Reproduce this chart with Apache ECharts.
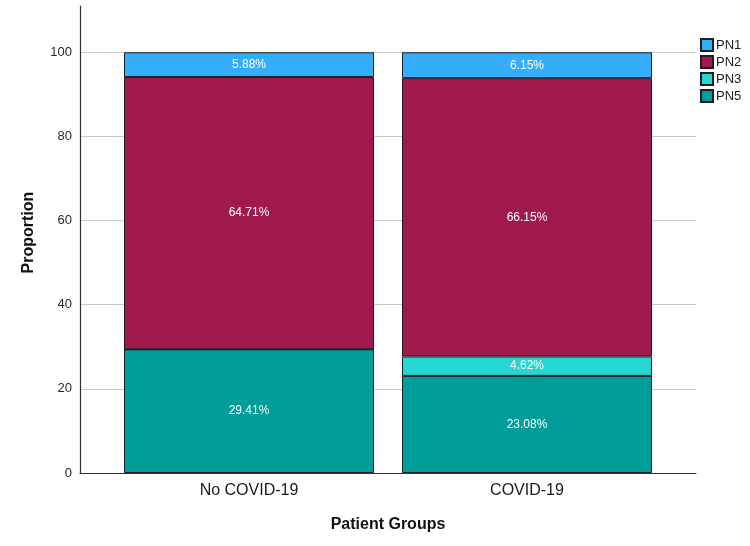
<!DOCTYPE html>
<html>
<head>
<meta charset="utf-8">
<script src="https://cdn.jsdelivr.net/npm/echarts@6/dist/echarts.min.js"></script>
<style>
html,body{margin:0;padding:0;background:#fff;}
#chart{width:750px;height:546px;}
</style>
</head>
<body>
<div id="chart"></div>
<script>
// Data
const categories = ['No COVID-19', 'COVID-19'];
const seriesNames = ['PN5', 'PN3', 'PN2', 'PN1']; // bottom to top
const pn5 = [29.41, 23.08];
const pn3 = [0, 4.62];
const pn2 = [64.71, 66.15];
const pn1 = [5.88, 6.15];
const legendOrder = ['PN1', 'PN2', 'PN3', 'PN5'];
const yTicks = [0, 20, 40, 60, 80, 100];

const colors = {PN1: '#34aefc', PN2: '#a11a4e', PN3: '#25d6d2', PN5: '#009d99'};
const valuesByName = {PN5: pn5, PN3: pn3, PN2: pn2, PN1: pn1};
const FONT = '"Liberation Sans", Arial, Helvetica, sans-serif';
const Y_MAX = 111;

const chart = echarts.init(document.getElementById('chart'), null, {renderer: 'canvas'});

const series = seriesNames.map(name => ({
  name: name,
  type: 'bar',
  stack: 'total',
  xAxisIndex: 1,
  yAxisIndex: 1,
  barWidth: 250,
  data: valuesByName[name],
  itemStyle: {color: colors[name], borderColor: '#1e1e1e', borderWidth: 1},
  label: {
    show: true,
    position: 'inside',
    color: '#ffffff',
    fontFamily: FONT,
    fontSize: 12,
    formatter: p => (p.value > 0 ? p.value.toFixed(2) + '%' : '')
  },
  emphasis: {disabled: true}
}));

chart.setOption({
  animation: false,
  backgroundColor: '#ffffff',
  textStyle: {fontFamily: FONT},
  legend: {
    orient: 'vertical',
    left: 695,
    top: 33,
    itemWidth: 12,
    itemHeight: 12,
    itemGap: 3,
    icon: 'rect',
    data: legendOrder,
    textStyle: {fontFamily: FONT, fontSize: 13, color: '#222', padding: [0, 0, 0, -2]}
  },
  grid: [
    {left: 80, right: 54, top: 6, bottom: 73, containLabel: false},
    {left: 110, right: 84, top: 6, bottom: 73, containLabel: false}
  ],
  xAxis: [
    {
      gridIndex: 0,
      type: 'category',
      data: [''],
      name: 'Patient Groups',
      nameLocation: 'middle',
      nameGap: 44,
      nameTextStyle: {fontFamily: FONT, fontSize: 16, fontWeight: 'bold', color: '#111'},
      axisLine: {show: true, onZero: false, lineStyle: {color: '#333', width: 1.2}},
      axisTick: {show: false},
      axisLabel: {show: false},
      splitLine: {show: false}
    },
    {
      gridIndex: 1,
      type: 'category',
      data: categories,
      axisLine: {show: false},
      axisTick: {show: false},
      splitLine: {show: false},
      axisLabel: {margin: 10, fontFamily: FONT, fontSize: 16, color: '#1a1a1a'}
    }
  ],
  yAxis: [
    {
      gridIndex: 0,
      type: 'value',
      min: 0,
      max: Y_MAX,
      interval: 20,
      name: 'Proportion',
      nameLocation: 'middle',
      nameGap: 43,
      nameTextStyle: {fontFamily: FONT, fontSize: 16, fontWeight: 'bold', color: '#111', padding: [0, 0, 0, 14]},
      axisLine: {show: true, onZero: false, lineStyle: {color: '#333', width: 1.2}},
      axisTick: {show: false},
      axisLabel: {
        margin: 8,
        fontFamily: FONT,
        fontSize: 13,
        color: '#2a2a2a',
        formatter: v => (yTicks.indexOf(v) >= 0 ? String(v) : '')
      },
      splitLine: {show: true, showMaxLine: false, showMinLine: false, lineStyle: {color: '#c8c8c8', width: 1}}
    },
    {
      gridIndex: 1,
      type: 'value',
      min: 0,
      max: Y_MAX,
      show: false,
      splitLine: {show: false}
    }
  ],
  series: series
});
</script>
</body>
</html>
